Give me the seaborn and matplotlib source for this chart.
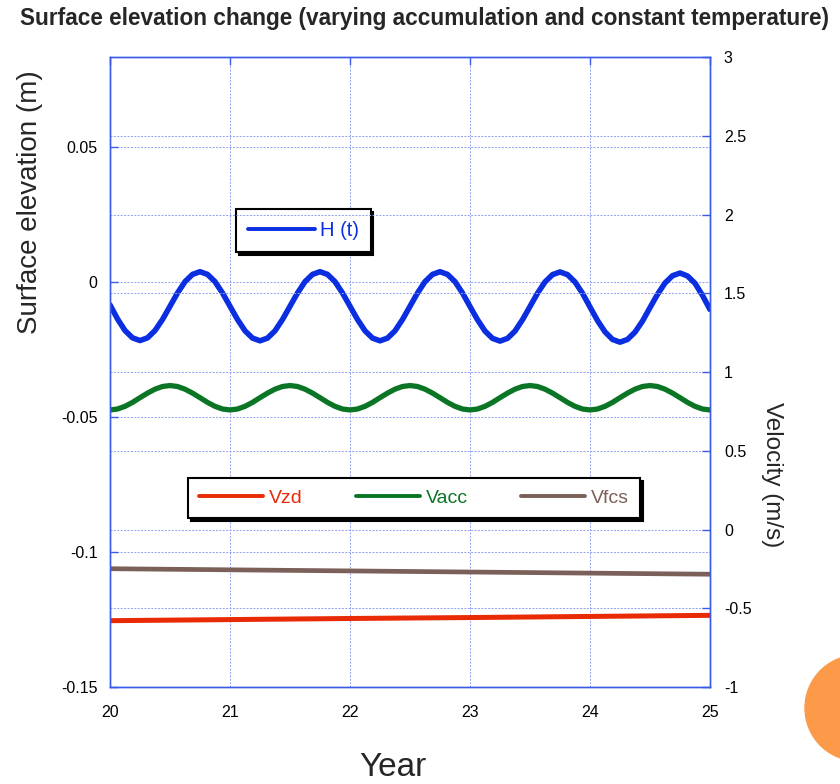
import matplotlib
matplotlib.use("Agg")
import matplotlib.pyplot as plt
import seaborn as sns
import pandas as pd
import numpy as np
from matplotlib.patches import Ellipse

# ---------------- data ----------------
years_h = [20 + i / 16 for i in range(81)]
H_vals = [
    -0.0085, -0.0137, -0.0180, -0.0207, -0.0217, -0.0207, -0.0180, -0.0139,
    -0.0090, -0.0041, 0.0001, 0.0028, 0.0038, 0.0028, 0.0001, -0.0041,
    -0.0090, -0.0139, -0.0181, -0.0208, -0.0218, -0.0208, -0.0181, -0.0139,
    -0.0090, -0.0041, 0.0001, 0.0028, 0.0038, 0.0028, 0.0001, -0.0041,
    -0.0090, -0.0139, -0.0181, -0.0208, -0.0218, -0.0208, -0.0181, -0.0139,
    -0.0090, -0.0041, 0.0001, 0.0028, 0.0038, 0.0028, 0.0001, -0.0041,
    -0.0091, -0.0140, -0.0182, -0.0209, -0.0219, -0.0209, -0.0182, -0.0140,
    -0.0091, -0.0042, 0.0000, 0.0027, 0.0037, 0.0027, 0.0000, -0.0042,
    -0.0093, -0.0143, -0.0185, -0.0213, -0.0223, -0.0213, -0.0186, -0.0145,
    -0.0095, -0.0046, -0.0004, 0.0023, 0.0033, 0.0022, -0.0005, -0.0050,
    -0.0102,
]
years_v = years_h
Vacc = [
    0.759, 0.765, 0.782, 0.807, 0.837, 0.866, 0.891, 0.908,
    0.914, 0.908, 0.891, 0.866, 0.837, 0.807, 0.782, 0.765,
    0.759, 0.765, 0.782, 0.807, 0.837, 0.866, 0.891, 0.908,
    0.914, 0.908, 0.891, 0.866, 0.837, 0.807, 0.782, 0.765,
    0.759, 0.765, 0.782, 0.807, 0.837, 0.866, 0.891, 0.908,
    0.914, 0.908, 0.891, 0.866, 0.837, 0.807, 0.782, 0.765,
    0.759, 0.765, 0.782, 0.807, 0.837, 0.866, 0.891, 0.908,
    0.914, 0.908, 0.891, 0.866, 0.837, 0.807, 0.782, 0.765,
    0.759, 0.765, 0.782, 0.807, 0.837, 0.866, 0.891, 0.908,
    0.914, 0.908, 0.891, 0.866, 0.837, 0.807, 0.782, 0.765,
    0.759,
]
years_lin = [20, 21, 22, 23, 24, 25]
Vfcs = [-0.249, -0.256, -0.263, -0.270, -0.277, -0.284]
Vzd = [-0.579, -0.572, -0.565, -0.559, -0.552, -0.545]

left_ticks = [-0.15, -0.1, -0.05, 0, 0.05]
left_labels = ["-0.15", "-0.1", "-0.05", "0", "0.05"]
right_ticks = [-1, -0.5, 0, 0.5, 1, 1.5, 2, 2.5, 3]
right_labels = ["-1", "-0.5", "0", "0.5", "1", "1.5", "2", "2.5", "3"]
x_ticks = [20, 21, 22, 23, 24, 25]

title = "Surface elevation change (varying accumulation and constant temperature)"

# ---------------- styling ----------------
sns.set_theme(style="white")
plt.rcParams["font.family"] = ["Liberation Sans", "DejaVu Sans"]

BLUE = "#0a2ee0"
GREEN = "#0b7526"
RED = "#e82a05"
BROWN = "#7a6058"
AX = "#3a5be8"
GRID = "#8f9ff0"

fig = plt.figure(figsize=(8.4, 7.84), dpi=100)
ax1 = fig.add_axes([110 / 840, 1 - 687 / 784, 600 / 840, 630 / 784])
ax2 = ax1.twinx()

dfH = pd.DataFrame({"Year": years_h, "H": H_vals})
dfA = pd.DataFrame({"Year": years_v, "V": Vacc})
dfL = pd.DataFrame({"Year": years_lin, "Vzd": Vzd, "Vfcs": Vfcs})

sns.lineplot(data=dfH, x="Year", y="H", ax=ax1, color=BLUE, lw=4.0, label="H (t)")
sns.lineplot(data=dfL, x="Year", y="Vzd", ax=ax2, color=RED, lw=3.6, label="Vzd")
sns.lineplot(data=dfA, x="Year", y="V", ax=ax2, color=GREEN, lw=3.8, label="Vacc")
sns.lineplot(data=dfL, x="Year", y="Vfcs", ax=ax2, color=BROWN, lw=3.4, label="Vfcs")

ax1.set_xlim(20, 25)
ax1.set_ylim(-0.15, 0.0833)
ax2.set_ylim(-1, 3)
ax1.set_xticks(x_ticks)
ax1.set_xticklabels([str(v) for v in x_ticks])
ax1.set_yticks(left_ticks)
ax1.set_yticklabels(left_labels)
ax2.set_yticks(right_ticks)
ax2.set_yticklabels(right_labels)

for a in (ax1, ax2):
    for s in a.spines.values():
        s.set_color(AX)
        s.set_linewidth(1.0)
ax1.tick_params(axis="both", direction="in", color=AX, length=6, width=1,
                labelsize=11.5, labelcolor="black", pad=9, top=True)
ax2.tick_params(axis="y", direction="in", color=AX, length=6, width=1,
                labelsize=11.5, labelcolor="black", pad=10)
ax1.tick_params(axis="x", pad=13)

ax1.grid(True, color=GRID, ls=(0, (2, 1.5)), lw=0.7)
ax2.grid(True, axis="y", color=GRID, ls=(0, (2, 1.5)), lw=0.7)
ax1.set_axisbelow(True)

ax1.set_xlabel("Year", fontsize=24, va="center")
ax1.set_ylabel("Surface elevation (m)", fontsize=20)
ax2.set_ylabel("Velocity (m/s)", fontsize=17.5, rotation=270, va="center")
ax1.xaxis.set_label_coords(0.472, -0.128)
ax1.yaxis.set_label_coords(-0.112, 0.77)
ax2.yaxis.set_label_coords(1.103, 0.337)

if ax2.get_legend():
    ax2.get_legend().remove()
if ax1.get_legend():
    ax1.get_legend().remove()

h1, l1 = ax1.get_legend_handles_labels()
leg1 = ax1.legend(h1, l1, loc="upper left", bbox_to_anchor=(0.21, 0.759),
                  borderaxespad=0, fontsize=14.5, labelcolor="linecolor",
                  handlelength=3.3, handletextpad=0.25, fancybox=False,
                  borderpad=0.6,
                  edgecolor="black", framealpha=1,
                  shadow={"color": "black", "alpha": 1})
leg1.get_frame().set_linewidth(1.5)
for ln in leg1.get_lines():
    ln.set_linewidth(2.8)

h2, l2 = ax2.get_legend_handles_labels()
leg2 = ax2.legend(h2, l2, loc="upper left", bbox_to_anchor=(0.13, 0.268, 0.753, 0.064),
                  mode="expand", ncol=3, borderaxespad=0, fontsize=14,
                  labelcolor="linecolor", handlelength=3.3, handletextpad=0.3,
                  borderpad=0.58,
                  fancybox=False, edgecolor="black", framealpha=1,
                  shadow={"color": "black", "alpha": 1})
leg2.get_frame().set_linewidth(1.5)
for ln in leg2.get_lines():
    ln.set_linewidth(2.8)

fig.text(20 / 840, 1 - 18 / 784, title, fontsize=16.3, fontweight="bold",
         ha="left", va="center")

fig.add_artist(Ellipse((858 / 840, 1 - 708 / 784), 106 / 840, 106 / 784,
                       transform=fig.transFigure, color="#fc9a4a", zorder=0))

fig.savefig("out.png", dpi=100)
